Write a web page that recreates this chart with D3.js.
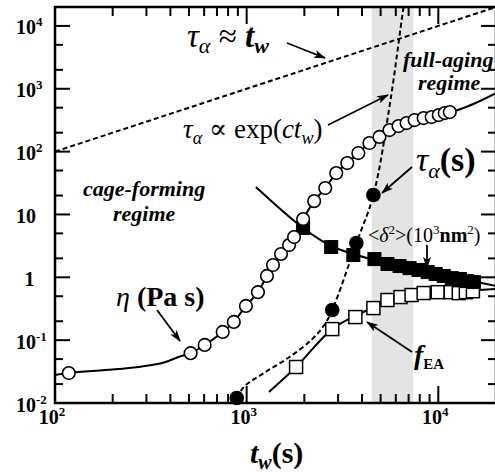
<!DOCTYPE html>
<html><head><meta charset="utf-8">
<script src="https://cdn.jsdelivr.net/npm/d3@7"></script>
<style>
html,body{margin:0;padding:0;background:#fff;}
svg{display:block;}
</style></head>
<body>
<script>
// ---------- data ----------
const xDomain = [100, 20000];
const yDomain = [0.01, 20000];
const agingBand = [4500, 7400];

// eta (Pa s): open circles
const etaX = [118, 510, 604, 750, 857, 991, 1145, 1276, 1372, 1511, 1664, 1767, 1971, 2250, 2570, 2934, 3350, 3826, 4370, 4930, 5560, 6200, 6830, 7520, 8380, 9230, 10050, 10800, 11480];
const etaY = [0.030, 0.062, 0.084, 0.135, 0.195, 0.35, 0.58, 1.05, 1.57, 2.35, 3.26, 4.37, 8.46, 16.3, 26.3, 45.6, 65.8, 94.9, 137, 171, 220, 255, 285, 318, 342, 355, 382, 411, 426];
// eta fit curve
const etaFitX = [100, 118, 183, 272, 377, 441, 510, 604, 750, 857, 991, 1145, 1276, 1372, 1511, 1664, 1767, 1971, 2250, 2570, 2934, 3350, 3826, 4370, 4930, 5560, 6200, 6830, 7520, 8380, 9230, 10050, 10800, 11480, 20000];
const etaFitY = [0.0279, 0.030, 0.0335, 0.0374, 0.0449, 0.0539, 0.062, 0.084, 0.135, 0.195, 0.35, 0.58, 1.05, 1.57, 2.35, 3.26, 4.37, 8.46, 16.3, 26.3, 45.6, 65.8, 94.9, 137, 171, 220, 255, 285, 318, 342, 355, 382, 411, 426, 855];

// <delta^2> (10^3 nm^2): filled squares
const d2X = [1970, 2762, 3603, 4642, 5430, 6277, 7080, 7894, 8800, 9690, 10670, 11750, 12950, 14090, 15330];
const d2Y = [6.08, 3.03, 2.26, 1.95, 1.63, 1.51, 1.40, 1.31, 1.21, 1.13, 1.05, 0.97, 0.94, 0.87, 0.84];
const d2FitX = [1117, 1970, 2762, 4642, 8185, 13270, 20000];
const d2FitY = [27.3, 6.08, 3.15, 1.88, 1.26, 0.94, 0.73];

// f_EA: open squares
const fX = [1811, 2796, 3692, 4585, 5430, 6352, 7254, 8385, 9930, 11610, 12790, 13920, 15150];
const fY = [0.0374, 0.150, 0.233, 0.324, 0.435, 0.485, 0.522, 0.562, 0.58, 0.58, 0.56, 0.58, 0.60];
const fFitX = [1307, 1811, 2796, 3967, 5697, 8185, 13270, 20000];
const fFitY = [0.015, 0.0374, 0.150, 0.270, 0.435, 0.542, 0.605, 0.65];

// tau_alpha (s): filled circles
const tauX = [888, 2796, 3736, 4585];
const tauY = [0.012, 0.302, 3.51, 20.4];
const tauFitX = [888, 967, 1231, 1644, 2171, 2540, 2796, 3736, 4585, 5630, 6588, 7000];
const tauFitY = [0.012, 0.018, 0.030, 0.052, 0.100, 0.174, 0.302, 3.51, 20.4, 661, 20000, 60000];

// tau_alpha ~ t_w reference line
const refX = [100, 20000];
const refY = [100, 20000];

// ticks
const xMajor = [100, 1000, 10000];
const xMajorBase = ["10", "10", "10"];
const xMajorExp = ["2", "3", "4"];
const yMajor = [0.01, 0.1, 1, 10, 100, 1000, 10000];
const yMajorBase = ["10", "10", "1", "10", "10", "10", "10"];
const yMajorExp = ["-2", "-1", "", "", "2", "3", "4"];
const xMinorMult = [2, 3, 4, 5, 6, 7, 8, 9];
const yMinorMult = [2, 5];

// ---------- layout ----------
const W = 495, H = 476;
const L = 55, R = 496, T = 7, B = 403;
const FONT = "'Liberation Serif', 'Times New Roman', 'DejaVu Serif', serif";
const x = d3.scaleLog().domain(xDomain).range([L, R]);
const y = d3.scaleLog().domain(yDomain).range([B, T]);

const svg = d3.select("body").append("svg").attr("width", W).attr("height", H)
  .attr("font-family", FONT);
svg.append("defs").append("clipPath").attr("id", "clip")
  .append("rect").attr("x", L).attr("y", T).attr("width", R - L).attr("height", B - T);
const defs = svg.select("defs");
defs.append("marker").attr("id", "ah").attr("markerUnits", "userSpaceOnUse")
  .attr("viewBox", "0 0 12 8").attr("refX", 11).attr("refY", 4)
  .attr("markerWidth", 12).attr("markerHeight", 8).attr("orient", "auto")
  .append("path").attr("d", "M0,0 L12,4 L0,8 L3,4 z").attr("fill", "#000");

// band
svg.append("rect").attr("x", x(agingBand[0])).attr("y", T)
  .attr("width", x(agingBand[1]) - x(agingBand[0])).attr("height", B - T)
  .attr("fill", "#e4e4e4");

const plot = svg.append("g").attr("clip-path", "url(#clip)");
const zip = (a, b) => a.map((v, i) => [v, b[i]]);
const line = d3.line().x(d => x(d[0])).y(d => y(d[1])).curve(d3.curveMonotoneX);
const cline = d3.line().x(d => x(d[0])).y(d => y(d[1])).curve(d3.curveCatmullRom.alpha(0.5));

// ref dashed line
plot.append("path").attr("d", d3.line().x(d => x(d[0])).y(d => y(d[1]))(zip(refX, refY)))
  .attr("fill", "none").attr("stroke", "#000").attr("stroke-width", 2).attr("stroke-dasharray", "5,3");
// tau dashed fit
plot.append("path").attr("d", cline(zip(tauFitX, tauFitY)))
  .attr("fill", "none").attr("stroke", "#000").attr("stroke-width", 2).attr("stroke-dasharray", "5,3");
// fit lines
plot.append("path").attr("d", line(zip(etaFitX, etaFitY))).attr("fill", "none").attr("stroke", "#000").attr("stroke-width", 2);
plot.append("path").attr("d", cline(zip(d2FitX, d2FitY))).attr("fill", "none").attr("stroke", "#000").attr("stroke-width", 2);
plot.append("path").attr("d", cline(zip(fFitX, fFitY))).attr("fill", "none").attr("stroke", "#000").attr("stroke-width", 2);

// markers
const SQ = 13;
plot.selectAll(".fsq").data(zip(fX, fY)).enter().append("rect")
  .attr("x", d => x(d[0]) - SQ / 2).attr("y", d => y(d[1]) - SQ / 2).attr("width", SQ).attr("height", SQ)
  .attr("fill", "#fff").attr("stroke", "#000").attr("stroke-width", 1.5);
plot.selectAll(".dsq").data(zip(d2X, d2Y)).enter().append("rect")
  .attr("x", d => x(d[0]) - SQ / 2).attr("y", d => y(d[1]) - SQ / 2).attr("width", SQ).attr("height", SQ)
  .attr("fill", "#000").attr("stroke", "#000").attr("stroke-width", 1);
plot.selectAll(".eta").data(zip(etaX, etaY)).enter().append("circle")
  .attr("cx", d => x(d[0])).attr("cy", d => y(d[1])).attr("r", 6.3)
  .attr("fill", "#fff").attr("stroke", "#000").attr("stroke-width", 1.6);
svg.selectAll(".tau").data(zip(tauX, tauY)).enter().append("circle")
  .attr("cx", d => x(d[0])).attr("cy", d => y(d[1])).attr("r", 7.3)
  .attr("fill", "#000");

// ---------- axes ----------
const ax = svg.append("g").attr("stroke", "#000").attr("stroke-width", 2);
const xMinor = [], yMinor = [];
[100, 1000, 10000].forEach(d => xMinorMult.forEach(m => { if (d * m <= xDomain[1]) xMinor.push(d * m); }));
[0.01, 0.1, 1, 10, 100, 1000, 10000].forEach(d => yMinorMult.forEach(m => { if (d * m <= yDomain[1]) yMinor.push(d * m); }));
function ticks(vals, len) {
  vals.forEach(v => {
    const px = x(v);
    ax.append("line").attr("x1", px).attr("x2", px).attr("y1", B).attr("y2", B - len);
    ax.append("line").attr("x1", px).attr("x2", px).attr("y1", T).attr("y2", T + len);
  });
}
function yticks(vals, len) {
  vals.forEach(v => {
    const py = y(v);
    ax.append("line").attr("x1", L).attr("x2", L + len).attr("y1", py).attr("y2", py);
    ax.append("line").attr("x1", R).attr("x2", R - len).attr("y1", py).attr("y2", py);
  });
}
ticks(xMajor, 17); ticks(xMinor, 9);
yticks(yMajor, 15); yticks(yMinor, 8);
svg.append("rect").attr("x", L).attr("y", T).attr("width", R - L).attr("height", B - T)
  .attr("fill", "none").attr("stroke", "#000").attr("stroke-width", 2.5);

// tick labels
const lab = svg.append("g").attr("font-weight", "bold").attr("fill", "#000");
xMajor.forEach((v, i) => {
  const t = lab.append("text").attr("x", x(v) - 3).attr("y", 424).attr("text-anchor", "middle").attr("font-size", 20);
  t.append("tspan").text(xMajorBase[i]);
  t.append("tspan").attr("font-size", 13).attr("dy", -8).text(xMajorExp[i]);
});
yMajor.forEach((v, i) => {
  const single = yMajorBase[i].length === 1;
  const t = lab.append("text").attr("x", single ? 29.5 : 16).attr("y", y(v) + 8.5)
    .attr("text-anchor", single ? "middle" : "start").attr("font-size", 20);
  t.append("tspan").text(yMajorBase[i]);
  if (yMajorExp[i]) t.append("tspan").attr("font-size", 13).attr("dy", -8).text(yMajorExp[i]);
});

// axis title
const xt = svg.append("text").attr("x", 250).attr("y", 463).attr("font-size", 30).attr("font-weight", "bold");
xt.append("tspan").attr("font-style", "italic").text("t");
xt.append("tspan").attr("font-style", "italic").attr("font-size", 20).attr("dy", 6).text("w");
xt.append("tspan").attr("dy", -6).text("(s)");

// ---------- annotations ----------
const ann = svg.append("g").attr("fill", "#000");
function arrow(x1, y1, x2, y2) {
  ann.append("line").attr("x1", x1).attr("y1", y1).attr("x2", x2).attr("y2", y2)
    .attr("stroke", "#000").attr("stroke-width", 1.8).attr("marker-end", "url(#ah)");
}
// tau ~ t_w
let t = ann.append("text").attr("x", 187).attr("y", 47).attr("font-size", 33);
t.append("tspan").attr("font-style", "italic").text("τ");
t.append("tspan").attr("font-style", "italic").attr("font-size", 22).attr("dy", 6).text("α");
t.append("tspan").attr("dy", -6).text(" ≈ ");
t.append("tspan").attr("font-style", "italic").attr("font-weight", "bold").text("t");
t.append("tspan").attr("font-style", "italic").attr("font-weight", "bold").attr("font-size", 22).attr("dy", 6).text("w");
arrow(287, 43, 325, 58);

// tau ~ exp(c t_w)
t = ann.append("text").attr("x", 183).attr("y", 138).attr("font-size", 27);
t.append("tspan").attr("font-style", "italic").text("τ");
t.append("tspan").attr("font-style", "italic").attr("font-size", 18).attr("dy", 6).text("α");
t.append("tspan").attr("dy", -6).text(" ∝ exp(");
t.append("tspan").attr("font-style", "italic").text("ct");
t.append("tspan").attr("font-style", "italic").attr("font-size", 18).attr("dy", 6).text("w");
t.append("tspan").attr("dy", -6).text(")");
arrow(328, 125, 388, 95);

// regimes
ann.append("text").attr("x", 83).attr("y", 196).attr("font-size", 22).attr("font-weight", "bold").attr("font-style", "italic").text("cage-forming");
ann.append("text").attr("x", 113).attr("y", 221).attr("font-size", 22).attr("font-weight", "bold").attr("font-style", "italic").text("regime");
ann.append("text").attr("x", 403).attr("y", 67).attr("font-size", 22).attr("font-weight", "bold").attr("font-style", "italic").text("full-aging");
ann.append("text").attr("x", 418).attr("y", 90).attr("font-size", 22).attr("font-weight", "bold").attr("font-style", "italic").text("regime");

// tau_alpha(s)
t = ann.append("text").attr("x", 416).attr("y", 171).attr("font-size", 34);
t.append("tspan").attr("font-style", "italic").text("τ");
t.append("tspan").attr("font-style", "italic").attr("font-size", 22).attr("dy", 7).text("α");
t.append("tspan").attr("dy", -7).attr("font-weight", "bold").text("(s)");
arrow(412, 167, 382, 193);

// <delta^2>
t = ann.append("text").attr("x", 368).attr("y", 242).attr("font-size", 20);
t.append("tspan").text("<");
t.append("tspan").attr("font-style", "italic").text("δ");
t.append("tspan").attr("font-size", 13).attr("dy", -8).text("2");
t.append("tspan").attr("dy", 8).text(">(10");
t.append("tspan").attr("font-size", 13).attr("dy", -8).text("3");
t.append("tspan").attr("dy", 8).attr("font-weight", "bold").text("nm");
t.append("tspan").attr("font-size", 13).attr("dy", -8).text("2");
t.append("tspan").attr("dy", 8).text(")");
arrow(427, 245, 427, 268);

// eta
t = ann.append("text").attr("x", 116).attr("y", 306).attr("font-size", 28);
t.append("tspan").attr("font-style", "italic").text("η");
t.append("tspan").attr("font-weight", "bold").text(" (Pa s)");
arrow(157, 310, 180, 341);

// f_EA
t = ann.append("text").attr("x", 414).attr("y", 364).attr("font-size", 28);
t.append("tspan").attr("font-style", "italic").attr("font-weight", "bold").text("f");
t.append("tspan").attr("font-weight", "bold").attr("font-size", 15).attr("dy", 5).text("EA");
arrow(412, 352, 367, 322);
</script>
</body></html>
